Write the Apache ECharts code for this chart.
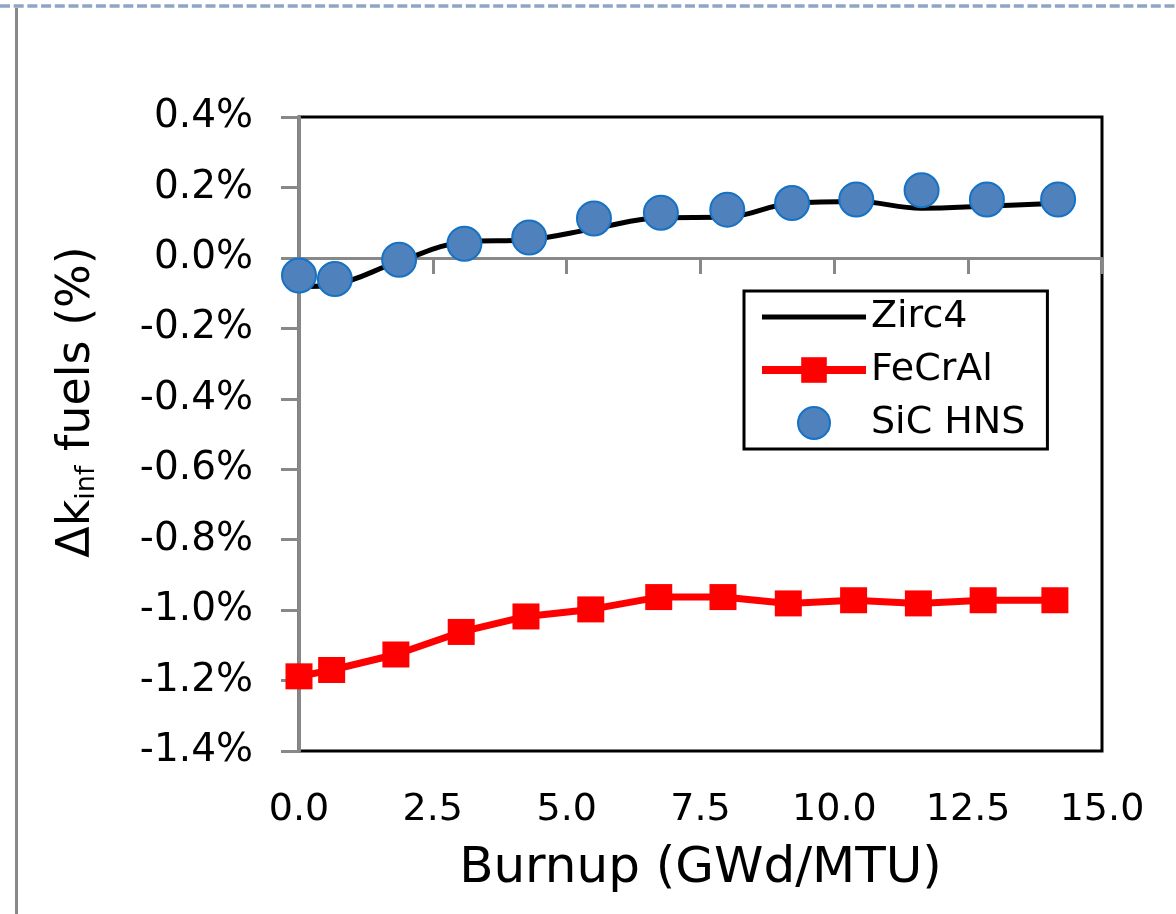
<!DOCTYPE html>
<html>
<head>
<meta charset="utf-8">
<script src="https://cdn.jsdelivr.net/npm/echarts@6/dist/echarts.min.js"></script>
<style>
html,body{margin:0;padding:0;background:#fff;}
#c{width:1176px;height:914px;}
</style>
</head>
<body>
<div id="c"></div>
<script>
// ---- data (burnup in GWd/MTU, delta k in %) ----
var xTicks = [0.0, 2.5, 5.0, 7.5, 10.0, 12.5, 15.0];
var yTicks = [-1.4, -1.2, -1.0, -0.8, -0.6, -0.4, -0.2, 0.0, 0.2, 0.4];

var zircBurnup = [0.0, 0.67, 1.87, 3.09, 4.30, 5.51, 6.76, 8.00, 9.21, 10.41, 11.63, 12.85, 14.18];
var zircDk     = [-0.082, -0.075, -0.010, 0.045, 0.052, 0.083, 0.114, 0.116, 0.155, 0.160, 0.141, 0.147, 0.155];

var fecralBurnup = [0.0, 0.61, 1.81, 3.03, 4.24, 5.45, 6.72, 7.92, 9.14, 10.36, 11.57, 12.78, 14.12];
var fecralDk     = [-1.188, -1.170, -1.126, -1.062, -1.018, -0.998, -0.963, -0.963, -0.981, -0.972, -0.981, -0.972, -0.972];

var sicBurnup = [0.0, 0.67, 1.87, 3.09, 4.30, 5.51, 6.76, 8.00, 9.21, 10.41, 11.63, 12.85, 14.18];
var sicDk     = [-0.050, -0.060, -0.005, 0.040, 0.058, 0.112, 0.128, 0.137, 0.156, 0.166, 0.192, 0.166, 0.166];

function pairs(xs, ys){ return xs.map(function(x,i){ return [x, ys[i]]; }); }

var FONT = "'DejaVu Sans', Verdana, sans-serif";
var chart = echarts.init(document.getElementById('c'), null, {renderer:'canvas'});

chart.setOption({
  animation: false,
  backgroundColor: '#ffffff',
  textStyle: {fontFamily: FONT},
  graphic: [
    {type:'line', shape:{x1:0, y1:6, x2:1176, y2:6}, style:{stroke:'#8ea5c6', lineWidth:3.5, lineDash:[10,3.7]}, silent:true},
    {type:'line', shape:{x1:16.5, y1:8, x2:16.5, y2:914}, style:{stroke:'#888888', lineWidth:3}, silent:true}
  ],
  grid: {
    left: 299, right: 74, top: 117, bottom: 163,
    show: true, borderColor: '#000', borderWidth: 3, backgroundColor: 'transparent'
  },
  legend: {
    left: 744, top: 291,
    orient: 'vertical',
    padding: [7, 22, 7, 14],
    itemWidth: 104, itemHeight: 32, itemGap: 15, itemTextGap: 8,
    borderColor: '#000', borderWidth: 3, backgroundColor: '#fff',
    textStyle: {fontFamily: FONT, fontSize: 38, color: '#000', lineHeight: 37},
    data: [
      {name: 'Zirc4', itemStyle: {color: 'rgba(0,0,0,0)', borderWidth: 0}, lineStyle: {width: 5, color: '#000'}},
      {name: 'FeCrAl', lineStyle: {width: 8, color: '#ff0000'}},
      {name: 'SiC HNS'}
    ]
  },
  xAxis: [
    {
      type: 'value', min: 0, max: 15, interval: 2.5, position: 'bottom',
      axisLine: {show: false, onZero: false},
      axisTick: {show: false},
      splitLine: {show: false},
      axisLabel: {
        margin: 40, fontFamily: FONT, fontSize: 38, color: '#000',
        formatter: function(v){ return v.toFixed(1); }
      },
      name: 'Burnup (GWd/MTU)', nameLocation: 'middle', nameGap: 93,
      nameTextStyle: {fontFamily: FONT, fontSize: 50, color: '#000'}
    },
    {
      type: 'value', min: 0, max: 15, interval: 2.5, position: 'bottom',
      axisLine: {show: true, onZero: true, lineStyle: {color: '#888888', width: 3}},
      axisTick: {show: true, inside: false, length: 16, lineStyle: {color: '#888888', width: 3}},
      axisLabel: {show: false},
      splitLine: {show: false}
    }
  ],
  yAxis: {
    type: 'value', min: -1.4, max: 0.4, interval: 0.2,
    axisLine: {show: true, onZero: false, lineStyle: {color: '#888888', width: 3}},
    axisTick: {show: true, inside: false, length: 18, lineStyle: {color: '#888888', width: 3}},
    splitLine: {show: false},
    axisLabel: {
      margin: 46, fontFamily: FONT, fontSize: 39, color: '#000',
      formatter: function(v){ if (Math.abs(v) < 1e-9) v = 0; return v.toFixed(1) + '%'; }
    },
    name: '{a|Δk}{b|inf}{a| fuels (%)}',
    nameLocation: 'middle', nameRotate: 90, nameGap: 199,
    nameTextStyle: {
      fontFamily: FONT, fontSize: 46, color: '#000', padding: [0, 0, 0, 64],
      rich: {
        a: {fontFamily: FONT, fontSize: 46, color: '#000'},
        b: {fontFamily: FONT, fontSize: 27, color: '#000', verticalAlign: 'bottom'}
      }
    }
  },
  series: [
    {
      name: 'Zirc4', type: 'line', xAxisIndex: 0, data: pairs(zircBurnup, zircDk),
      smooth: 0.4, symbol: 'none', color: '#000',
      lineStyle: {color: '#000', width: 5}, z: 2
    },
    {
      name: 'FeCrAl', type: 'line', xAxisIndex: 0, data: pairs(fecralBurnup, fecralDk),
      symbol: 'rect', symbolSize: [27, 26], showAllSymbol: true, color: '#ff0000',
      itemStyle: {color: '#ff0000'},
      lineStyle: {color: '#ff0000', width: 7}, z: 3
    },
    {
      name: 'SiC HNS', type: 'scatter', xAxisIndex: 0, data: pairs(sicBurnup, sicDk),
      symbol: 'circle', symbolSize: 34, color: '#4f81bd',
      itemStyle: {color: '#4f81bd', borderColor: '#1672c4', borderWidth: 2, opacity: 1}, z: 4
    }
  ]
});
</script>
</body>
</html>
